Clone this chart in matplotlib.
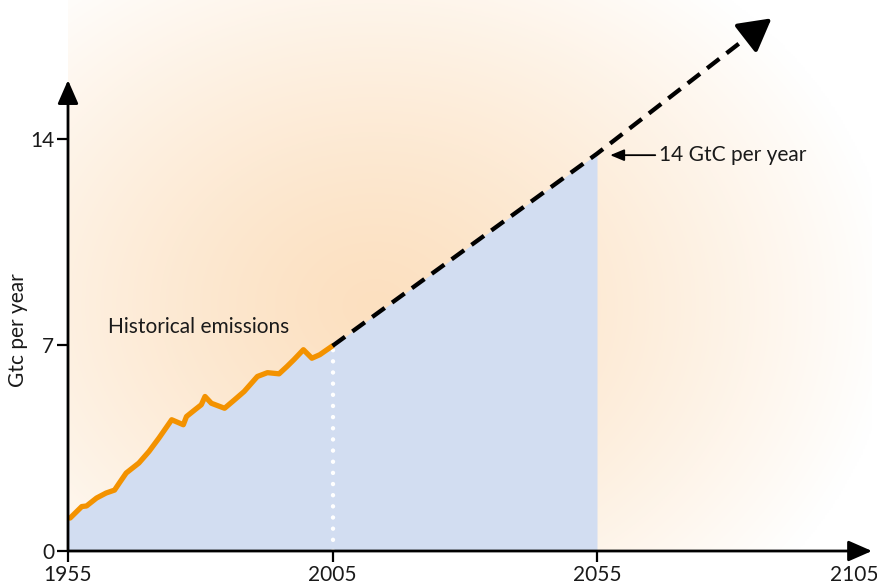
import numpy as np
import matplotlib
matplotlib.use("Agg")
import matplotlib.pyplot as plt

# ---------------- data ----------------
hist_years = [1955.4, 1957.6, 1958.5, 1960.4, 1962.2, 1963.8, 1964.7, 1966.0, 1968.4,
              1970.3, 1972.2, 1974.6, 1976.8, 1977.4, 1979.0, 1980.2, 1980.9, 1982.1,
              1984.6, 1986.5, 1988.3, 1990.8, 1992.7, 1994.9, 1996.4, 1997.7, 1999.5,
              2001.1, 2002.6, 2005.0]
hist_values = [1.12, 1.51, 1.53, 1.80, 1.97, 2.07, 2.31, 2.65, 2.99,
               3.38, 3.84, 4.46, 4.29, 4.57, 4.80, 4.97, 5.25, 5.02,
               4.85, 5.14, 5.42, 5.93, 6.06, 6.02, 6.27, 6.50, 6.84,
               6.55, 6.67, 6.97]
proj_years = [2005, 2055, 2088]
proj_values = [6.97, 13.5, 18.1]
x_ticks = [1955, 2005, 2055]
x_ticklabels = ["1955", "2005", "2055"]
x_end_tick = 2105
x_end_label = "2105"
y_ticks = [0, 7, 14]
y_ticklabels = ["0", "7", "14"]
label_14 = "14 GtC per year"
label_hist = "Historical emissions"
ylabel = "Gtc per year"

FONT = ["Lato", "DejaVu Sans"]
plt.rcParams['font.family'] = FONT
TXT = "#1a1a1a"
FS = 15

W, H = 878, 588
fig = plt.figure(figsize=(W / 100, H / 100), dpi=100)
x0px, x1px = 68, 872
ybot_px = 551
ax = fig.add_axes([x0px / W, (H - ybot_px) / H, (x1px - x0px) / W, ybot_px / H])
pxyr = (597 - 68) / 100.0
pxunit = 29.43
XMAX = 1955 + (x1px - x0px) / pxyr
YMAX = ybot_px / pxunit
ax.set_xlim(1955, XMAX)
ax.set_ylim(0, YMAX)
for s in ax.spines.values():
    s.set_visible(False)

# background radial gradient
nx, ny = 400, 300
gx = np.linspace(x0px, x1px, nx)
gy = np.linspace(0, ybot_px, ny)
GX, GY = np.meshgrid(gx, gy)
cx, cy, rx, ry = 375, 245, 520, 420
r = np.sqrt(((GX - cx) / rx) ** 2 + ((GY - cy) / ry) ** 2)
t = np.clip(r, 0, 1) ** 1.25
center = np.array([252, 224, 192]) / 255.0
white = np.array([1.0, 1.0, 1.0])
img = center[None, None, :] * (1 - t[..., None]) + white[None, None, :] * t[..., None]
ax.imshow(img, extent=[1955, XMAX, YMAX, 0], origin='upper', aspect='auto', zorder=0)
ax.set_xlim(1955, XMAX)
ax.set_ylim(0, YMAX)

# blue fill under history + projection to 2055
fx = np.concatenate([[1955], hist_years, proj_years[1:2]])
fy = np.concatenate([[hist_values[0]], hist_values, proj_values[1:2]])
ax.fill_between(fx, 0, fy, color="#d2ddf1", lw=0, zorder=1)

# white dotted line at 2005
ax.plot([proj_years[0], proj_years[0]], [0, proj_values[0]], color="white", lw=3.2,
        linestyle=(0, (0.01, 2.5)), dash_capstyle='round', zorder=2)

# historical line
ax.plot(hist_years, hist_values, color="#f39200", lw=3.8, solid_capstyle='round',
        solid_joinstyle='round', zorder=3)

# projection dashed line
slope = (proj_values[2] - proj_values[1]) / (proj_years[2] - proj_years[1])
end_x = proj_years[2] - 3
ax.plot([proj_years[0], proj_years[1], end_x],
        [proj_values[0], proj_values[1], proj_values[1] + slope * (end_x - proj_years[1])],
        color="black", lw=3.1, dashes=(3.6, 2.1), dash_capstyle='butt', zorder=4)
ax.annotate('', xy=(proj_years[2], proj_values[2]),
            xytext=(proj_years[2] - 4, proj_values[2] - 4 * slope),
            arrowprops=dict(arrowstyle='-|>,head_length=0.9,head_width=0.5', lw=3,
                            color='black', mutation_scale=22, shrinkA=0, shrinkB=0),
            zorder=5)

# axes arrows
ax.annotate('', xy=(XMAX, 0), xytext=(1955, 0), annotation_clip=False,
            arrowprops=dict(arrowstyle='-|>,head_length=0.8,head_width=0.35', lw=2,
                            color='black', mutation_scale=18, shrinkA=0, shrinkB=0), zorder=6)
ax.annotate('', xy=(1955, 16.0), xytext=(1955, 0), annotation_clip=False,
            arrowprops=dict(arrowstyle='-|>,head_length=0.8,head_width=0.35', lw=2,
                            color='black', mutation_scale=18, shrinkA=0, shrinkB=0), zorder=6)

# ticks
ax.set_xticks(x_ticks)
ax.set_xticklabels(x_ticklabels, fontsize=FS, color=TXT)
ax.set_yticks(y_ticks)
ax.set_yticklabels(y_ticklabels, fontsize=FS, color=TXT)
ax.tick_params(axis='both', direction='out', length=8, width=1.6, color='black', pad=2)
ax.annotate(x_end_label, xy=(x_end_tick, 0), xytext=(-5, -10), textcoords='offset points',
            ha='center', va='top', fontsize=FS, color=TXT, annotation_clip=False)
fig.text(18 / W, 1 - 330 / H, ylabel, rotation=90, ha='center', va='center',
         fontsize=FS, color=TXT)

# annotations
ax.text(1962.6, 7.62, label_hist, fontsize=FS, color=TXT, va='center', ha='left', zorder=7)
ax.annotate(label_14, xy=(2057.5, 13.45), xytext=(2066.8, 13.45), va='center', ha='left',
            fontsize=FS, color=TXT,
            arrowprops=dict(arrowstyle='-|>,head_length=0.6,head_width=0.25', lw=1.3,
                            color='black', mutation_scale=14, shrinkA=1, shrinkB=0), zorder=7)

fig.savefig("out.png", dpi=100)
